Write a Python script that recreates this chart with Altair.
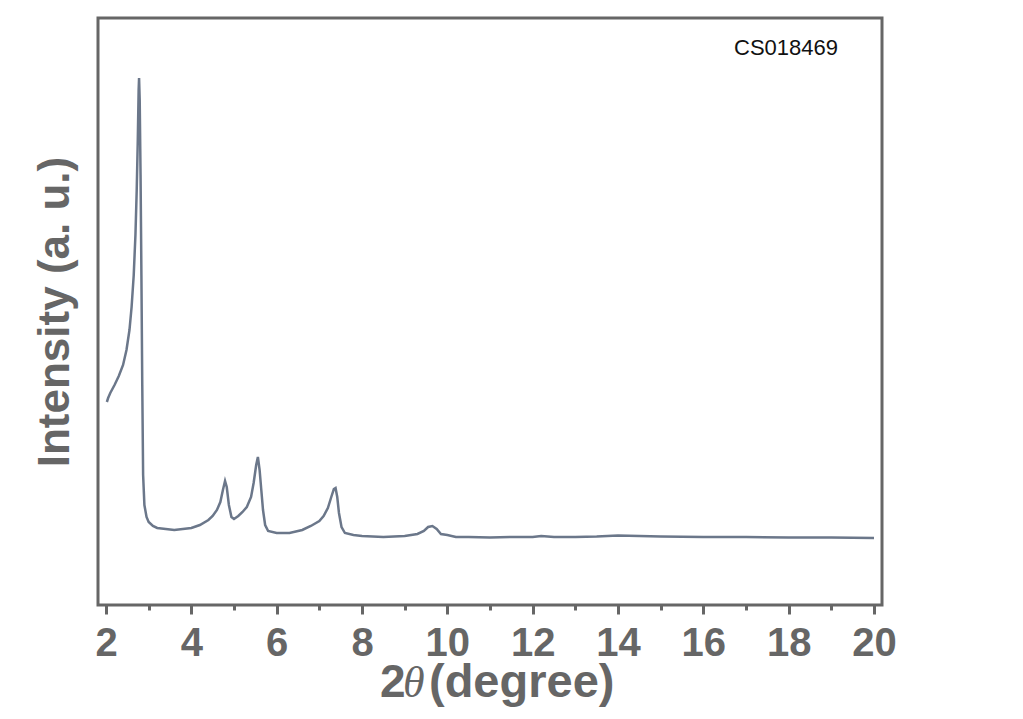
import altair as alt
import pandas as pd

# 2-theta (degree) and intensity (a.u.)
two_theta = [2.02, 2.05, 2.10, 2.20, 2.30, 2.40, 2.48, 2.55, 2.60, 2.65, 2.69, 2.72, 2.745,
             2.765, 2.775, 2.79, 2.81, 2.83, 2.85, 2.87, 2.90, 2.95, 3.00, 3.10, 3.20,
             3.40, 3.60, 3.80, 4.00, 4.20, 4.40, 4.50, 4.60, 4.68, 4.74, 4.79, 4.83,
             4.88, 4.94, 5.00, 5.10, 5.20, 5.30, 5.40, 5.46, 5.52, 5.56, 5.60, 5.64,
             5.68, 5.73, 5.80, 6.00, 6.30, 6.60, 6.80, 7.00, 7.10, 7.20, 7.28, 7.34,
             7.38, 7.42, 7.46, 7.52, 7.60, 7.80, 8.00, 8.50, 9.00, 9.30, 9.45, 9.55,
             9.65, 9.75, 9.85, 10.00, 10.20, 10.50, 11.00, 11.50, 12.00, 12.20, 12.50,
             13.00, 13.50, 14.00, 14.50, 15.00, 16.00, 17.00, 18.00, 19.00, 20.00]
intensity = [203, 207, 212, 220, 229, 240, 255, 275, 298, 330, 370, 415, 465,
             515, 527, 505, 430, 330, 220, 130, 100, 88, 83, 79, 77,
             76, 75, 76, 77, 80, 85, 89, 95, 103, 115, 124, 118,
             100, 88, 86, 89, 93, 98, 108, 122, 140, 148, 135, 115,
             95, 80, 74, 72, 72, 75, 79, 84, 89, 97, 108, 116,
             117, 108, 92, 78, 72, 70, 69, 68, 69, 71, 74, 78,
             79, 76, 71, 70, 68, 68, 67.5, 68, 68, 69, 68,
             68, 68.5, 69.5, 69, 68.5, 68, 68, 67.5, 67.5, 67]

tick_values = list(range(2, 21))

df = pd.DataFrame({"two_theta": two_theta, "intensity": intensity})

GRAY = "#666666"
FONT = "Liberation Sans"

base = alt.Chart(df)

line = base.mark_line(color="#6b778a", strokeWidth=2.5).encode(
    x=alt.X(
        "two_theta:Q",
        scale=alt.Scale(domain=[1.8125, 20.1875], nice=False, zero=False),
        axis=alt.Axis(
            values=tick_values,
            labelExpr="datum.value % 2 == 0 ? datum.label : ''",
            title=None,
            domain=False,
            grid=False,
            tickColor=GRAY,
            tickWidth=3,
            tickSize={"condition": {"test": "datum.value % 2 == 0", "value": 9}, "value": 5},
            labelFont=FONT,
            labelFontSize=40,
            labelFontWeight="bold",
            labelColor=GRAY,
            labelPadding=9,
            labelFlush=False,
            labelOverlap=False,
        ),
    ),
    y=alt.Y(
        "intensity:Q",
        scale=alt.Scale(domain=[0, 587], nice=False, zero=False),
        axis=alt.Axis(
            title="Intensity (a. u.)",
            ticks=False,
            labels=False,
            domain=False,
            grid=False,
            titleFont=FONT,
            titleFontSize=44,
            titleFontWeight="bold",
            titleColor=GRAY,
            titlePadding=21,
        ),
    ),
)

one = "datum.two_theta == 2.02"

label = base.mark_text(
    text="CS018469", font=FONT, fontSize=22, color="#111111", align="center", baseline="middle"
).encode(x=alt.value(688), y=alt.value(30)).transform_filter(one)

t2 = base.mark_text(
    text="2", font=FONT, fontSize=46, fontWeight="bold", color=GRAY, align="left", baseline="alphabetic"
).encode(x=alt.value(282), y=alt.value(679)).transform_filter(one)
ttheta = base.mark_text(
    text="θ", font="Liberation Serif", fontSize=44, fontStyle="italic", color=GRAY,
    align="left", baseline="alphabetic"
).encode(x=alt.value(305), y=alt.value(679)).transform_filter(one)
tdeg = base.mark_text(
    text="(degree)", font=FONT, fontSize=47, fontWeight="bold", color=GRAY, align="left",
    baseline="alphabetic"
).encode(x=alt.value(331), y=alt.value(679)).transform_filter(one)

chart = (
    alt.layer(line, label, t2, ttheta, tdeg)
    .properties(
        width=784,
        height=587,
        autosize=alt.AutoSizeParams(type="none"),
        padding={"left": 90, "top": 10, "right": 40, "bottom": 115},
        background="white",
    )
    .configure_view(stroke=GRAY, strokeWidth=3)
)

chart.save("out.html", embed_options={"renderer": "svg", "actions": False})
